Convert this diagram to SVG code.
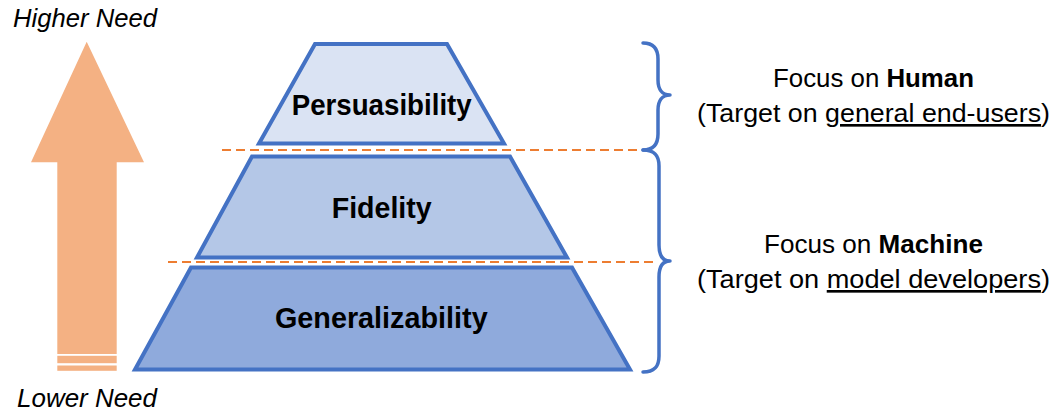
<svg xmlns="http://www.w3.org/2000/svg" width="1058" height="414" viewBox="0 0 1058 414">
  <style>
    .lvl { stroke: #4472C4; stroke-width: 4; stroke-linejoin: miter; }
    .lvl-top { fill: #DAE3F3; }
    .lvl-mid { fill: #B4C7E7; }
    .lvl-bot { fill: #8FAADC; }
    .lvl-label { font-family: "Liberation Sans", Arial, sans-serif; font-weight: bold; font-size: 29px; fill: #000; text-anchor: middle; }
    .need { font-family: "Liberation Sans", Arial, sans-serif; font-style: italic; font-size: 25px; fill: #000; }
    .focus { font-family: "Liberation Sans", Arial, sans-serif; font-size: 26.5px; fill: #000; text-anchor: middle; }
    .sep { stroke: #ED7D31; stroke-width: 2.2; stroke-dasharray: 9 5; fill: none; }
    .brace { stroke: #4472C4; stroke-width: 3.5; fill: none; stroke-linecap: round; stroke-linejoin: round; }
    .arrow { fill: #F4B183; }
    .b { font-weight: bold; }
    .u { text-decoration: underline; }
  </style>

  <g id="need-arrow">
    <polygon class="arrow" points="86.7,41.7 144,162.3 116.7,162.3 116.7,354 57.3,354 57.3,162.3 31,162.3"/>
    <rect class="arrow" x="57.3" y="355.8" width="59.4" height="7.4"/>
    <rect class="arrow" x="57.3" y="365.5" width="59.4" height="5.3"/>
  </g>
  <g id="label-higher">
    <text class="need" x="13" y="26.7" textLength="144" lengthAdjust="spacingAndGlyphs">Higher Need</text>
  </g>
  <g id="label-lower">
    <text class="need" x="17" y="406.7" textLength="140" lengthAdjust="spacingAndGlyphs">Lower Need</text>
  </g>

  <g id="level-persuasibility">
    <polygon class="lvl lvl-top" points="315,44 447,44 504,143.5 259,143.5"/>
    <text class="lvl-label" x="381.7" y="115" textLength="180" lengthAdjust="spacingAndGlyphs">Persuasibility</text>
  </g>
  <g id="level-fidelity">
    <polygon class="lvl lvl-mid" points="252,156.5 510,156.5 567,257.5 197,257.5"/>
    <text class="lvl-label" x="381.7" y="218.3" textLength="100" lengthAdjust="spacingAndGlyphs">Fidelity</text>
  </g>
  <g id="level-generalizability">
    <polygon class="lvl lvl-bot" points="191,267.5 572,267.5 630,369.5 135,369.5"/>
    <text class="lvl-label" x="381.3" y="328.3" textLength="212.7" lengthAdjust="spacingAndGlyphs">Generalizability</text>
  </g>

  <g id="connectors">
    <line class="sep" x1="222" y1="150" x2="643" y2="150"/>
    <line class="sep" x1="168" y1="262" x2="655" y2="262"/>
  </g>

  <g id="brace-human">
    <path class="brace" d="M643,43 C654,43 658,49 658,59 L658,80 C658,89 662,95 670,95 C662,95 658,101 658,110 L658,134 C658,144 654,150 643,150"/>
  </g>
  <g id="brace-machine">
    <path class="brace" d="M643,150 C655,150 659,156 659,166 L659,245 C659,255 662,261 670,261 C662,261 659,267 659,277 L659,356 C659,366 655,372 643,372"/>
  </g>

  <g id="focus-human">
    <text class="focus" x="873.5" y="87" textLength="201" lengthAdjust="spacingAndGlyphs">Focus on <tspan class="b">Human</tspan></text>
    <text class="focus" x="873.5" y="122" textLength="353" lengthAdjust="spacingAndGlyphs">(Target on <tspan class="u">general end-users</tspan>)</text>
  </g>
  <g id="focus-machine">
    <text class="focus" x="873.5" y="253" textLength="219" lengthAdjust="spacingAndGlyphs">Focus on <tspan class="b">Machine</tspan></text>
    <text class="focus" x="873.5" y="288" textLength="353" lengthAdjust="spacingAndGlyphs">(Target on <tspan class="u">model developers</tspan>)</text>
  </g>
</svg>
